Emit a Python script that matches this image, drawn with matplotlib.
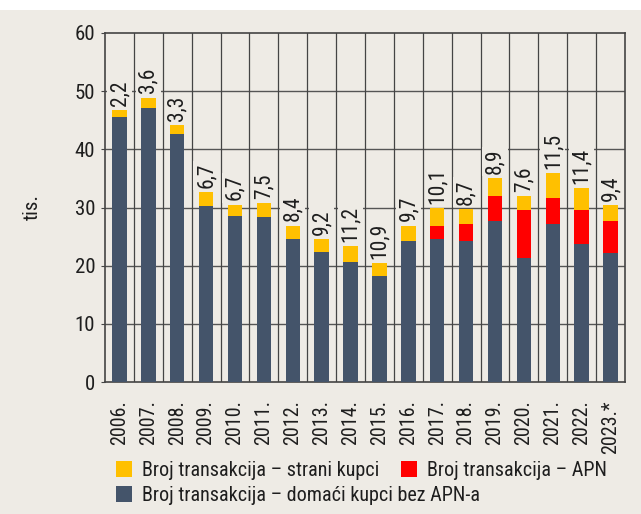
import matplotlib.pyplot as plt
import numpy as np
from matplotlib import font_manager as fm

installed = set(f.name for f in fm.fontManager.ttflist)
for ime in ['Roboto Condensed', 'Liberation Sans Narrow', 'Archivo Narrow', 'PT Sans Narrow',
            'Barlow Semi Condensed', 'Open Sans Condensed', 'DejaVu Sans']:
    if ime in installed:
        font = ime
        break
plt.rcParams['font.family'] = [font, 'DejaVu Sans']

godine = ['2006.', '2007.', '2008.', '2009.', '2010.', '2011.', '2012.', '2013.', '2014.',
          '2015.', '2016.', '2017.', '2018.', '2019.', '2020.', '2021.', '2022.', '2023.*']
domaci = [45.6, 47.1, 42.7, 30.3, 28.5, 28.4, 24.5, 22.3, 20.7,
          18.3, 24.3, 24.5, 24.2, 27.7, 21.4, 27.1, 23.8, 22.1]
apn = [0, 0, 0, 0, 0, 0, 0, 0, 0,
       0, 0, 2.3, 2.9, 4.2, 8.2, 4.6, 5.7, 5.5]
strani = [1.2, 1.8, 1.5, 2.3, 2.0, 2.3, 2.4, 2.3, 2.7,
          2.2, 2.6, 3.1, 2.6, 3.1, 2.4, 4.2, 3.9, 2.8]
udio = ['2,2', '3,6', '3,3', '6,7', '6,7', '7,5', '8,4', '9,2', '11,2',
        '10,9', '9,7', '10,1', '8,7', '8,9', '7,6', '11,5', '11,4', '9,4']

bg = '#EEEBE5'
c_dom = '#44546A'
c_apn = '#FF0000'
c_str = '#FFC000'
tc = '#1E1E1E'

fig = plt.figure(figsize=(6.41, 5.14), dpi=100, facecolor=bg)
fig.patches.append(plt.Rectangle((0, 1 - 10 / 514), 1, 10 / 514, transform=fig.transFigure,
                                 facecolor='white', edgecolor='none', zorder=0))
ax = fig.add_axes([105 / 641, 1 - 382 / 514, 520 / 641, 349 / 514])
ax.set_facecolor(bg)

x = np.arange(len(godine))
w = 0.5
dom = np.array(domaci)
ap = np.array(apn)
st = np.array(strani)
b_dom = ax.bar(x, dom, w, color=c_dom, zorder=3)
b_apn = ax.bar(x, ap, w, bottom=dom, color=c_apn, zorder=3)
b_str = ax.bar(x, st, w, bottom=dom + ap, color=c_str, zorder=3)

vrh = dom + ap + st
for i in range(len(godine)):
    ax.annotate(udio[i], (x[i], vrh[i]), xytext=(0, 3), textcoords='offset points',
                rotation=90, ha='center', va='bottom', fontsize=15.5, color=tc, zorder=4,
                bbox=dict(boxstyle='square,pad=0.1', facecolor=bg, edgecolor='none'))

ax.set_xlim(-0.5, len(godine) - 0.5)
ax.set_ylim(0, 60)
ax.set_yticks(range(0, 61, 10))
ax.set_xticks(x)
ax.set_xticklabels(godine, rotation=90, fontsize=14.5, color=tc)
ax.tick_params(axis='y', labelsize=15, length=3, color='#444444', labelcolor=tc, pad=4)
ax.tick_params(axis='x', length=0, pad=13)
for v in range(10, 60, 10):
    ax.axhline(v, color='#555555', lw=1, zorder=1)
for b in np.arange(0.5, len(godine) - 0.5, 1):
    ax.axvline(b, color='#444444', lw=0.9, zorder=1)
for s in ax.spines.values():
    s.set_color('#444444')
    s.set_linewidth(1.2)

ax.set_ylabel('tis.', fontsize=15, color=tc, labelpad=24)

kw = dict(frameon=False, fontsize=14.5, handlelength=0.8, handleheight=0.8,
          handletextpad=0.5, labelspacing=0.3, borderpad=0, borderaxespad=0)
leg1 = fig.legend([b_str, b_dom], ['Broj transakcija – strani kupci',
                                   'Broj transakcija – domaći kupci bez APN-a'],
                  loc='upper left', bbox_to_anchor=(116 / 641, 1 - 461 / 514), **kw)
leg2 = fig.legend([b_apn], ['Broj transakcija – APN'],
                  loc='upper left', bbox_to_anchor=(401 / 641, 1 - 461 / 514), **kw)
for leg in (leg1, leg2):
    for t in leg.get_texts():
        t.set_color(tc)

fig.savefig('out.png', dpi=100, facecolor=bg)
